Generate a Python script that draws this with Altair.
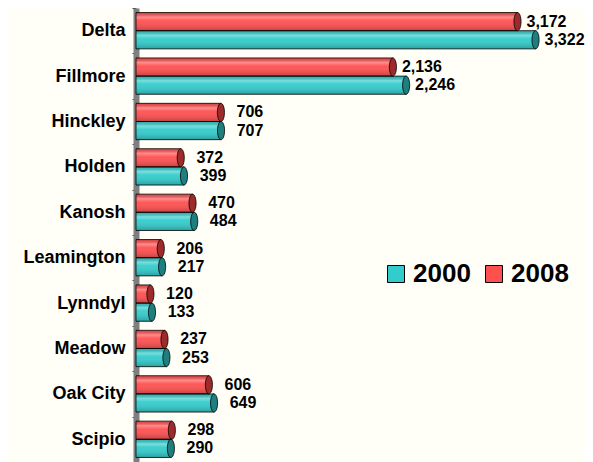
import altair as alt
import pandas as pd

towns = ["Delta", "Fillmore", "Hinckley", "Holden", "Kanosh", "Leamington",
         "Lynndyl", "Meadow", "Oak City", "Scipio"]
v2000 = [3322, 2246, 707, 399, 484, 217, 133, 253, 649, 290]
v2008 = [3172, 2136, 706, 372, 470, 206, 120, 237, 606, 298]
series = ["2000", "2008"]
colors = ["#33CCCC", "#FF5050"]
cap_colors = {"2000": "#1F7F7F", "2008": "#9E2B2B"}

rows = []
for t, a, b in zip(towns, v2000, v2008):
    rows.append({"town": t, "series": "2000", "value": a})
    rows.append({"town": t, "series": "2008", "value": b})
df = pd.DataFrame(rows)

FONT = "Liberation Sans, Arial, sans-serif"

x = alt.X("value:Q", stack=None, axis=None,
          scale=alt.Scale(domain=[0, 3700], nice=False, zero=True))
y = alt.Y("town:N", sort=towns, title=None,
          scale=alt.Scale(paddingInner=0, paddingOuter=0),
          axis=alt.Axis(labelFont=FONT, labelFontSize=18, labelFontWeight="bold",
                        labelColor="black", domainColor="#7F7F7F", domainWidth=6,
                        tickColor="#404040", tickSize=4, labelPadding=7,
                        tickBand="extent"))
yoff = alt.YOffset("series:N", sort=["2008", "2000"],
                   scale=alt.Scale(paddingInner=0, paddingOuter=0.25))

base = alt.Chart(df)

bars = base.mark_bar(cornerRadius=0).encode(
    x=x, y=y, yOffset=yoff,
    color=alt.Color("series:N", scale=alt.Scale(domain=series, range=colors),
                    title=None,
                    legend=alt.Legend(orient="none", legendX=247, legendY=253,
                                      direction="horizontal", symbolType="square",
                                      symbolSize=289, symbolStrokeColor="black",
                                      symbolStrokeWidth=1, symbolOpacity=1,
                                      labelFont=FONT, labelFontSize=26,
                                      labelFontWeight="bold", labelColor="black",
                                      labelOffset=4, columnPadding=10, padding=0)),
)

shade = alt.Gradient(
    gradient="linear", x1=0, x2=0, y1=0, y2=1,
    stops=[
        alt.GradientStop(color="rgba(0,0,0,0.12)", offset=0),
        alt.GradientStop(color="rgba(255,255,255,0.35)", offset=0.25),
        alt.GradientStop(color="rgba(255,255,255,0.05)", offset=0.45),
        alt.GradientStop(color="rgba(0,0,0,0.22)", offset=1),
    ],
)
overlay = base.mark_bar(fill=shade, stroke="black", strokeWidth=0.8).encode(
    x=x, y=y, yOffset=yoff
)

ellipse = "M0,-1A0.39,1,0,1,1,0,1A0.39,1,0,1,1,0,-1Z"
caps = []
for s in series:
    caps.append(
        base.transform_filter(alt.datum.series == s).mark_point(
            shape=ellipse, filled=True, fill=cap_colors[s], stroke="black",
            strokeWidth=0.8, opacity=1, size=330
        ).encode(x=x, y=y, yOffset=yoff)
    )

labels = base.mark_text(align="center", baseline="middle", dx=29, font=FONT,
                        fontSize=16, fontWeight="bold", color="black").encode(
    x=x, y=y, yOffset=yoff, text=alt.Text("value:Q", format=",d")
)

chart = alt.layer(bars, overlay, *caps, labels).properties(
    width=445, height=454, background="#FFFFF7",
    autosize=alt.AutoSizeParams(type="none"),
    padding={"left": 128, "top": 0, "right": 4, "bottom": 0},
).configure_view(stroke=None)

chart.save("out.html", embed_options={"renderer": "svg", "actions": False})
